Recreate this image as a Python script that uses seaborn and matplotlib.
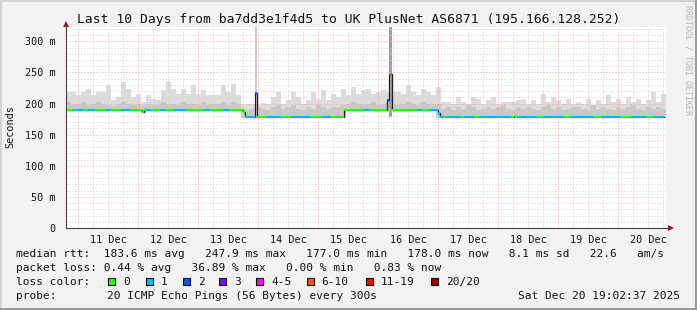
import numpy as np
import pandas as pd
import matplotlib
matplotlib.use("Agg")
import matplotlib.pyplot as plt
import seaborn as sns
from matplotlib.patches import Rectangle
from matplotlib.lines import Line2D

sns.set_style("white")
plt.rcParams['font.family'] = ['DejaVu Sans Mono', 'DejaVu Sans']

# ---------------- data ----------------
block_hours = 2.0   # smoke resolution (hours per block), 120 blocks over 10 days
smoke_top = [219, 219, 213, 219, 224, 213, 219, 219, 229, 205, 211, 235, 224, 211, 216, 203, 213, 208, 205, 221,
             235, 224, 216, 224, 216, 229, 216, 221, 213,
             213, 213, 229, 219, 232, 213, 200, 200, 200, 197, 201, 200, 211, 219, 200, 205, 219, 211, 200, 205,
             219, 208, 221, 205, 216, 211, 224, 213, 227, 216,
             221, 224, 216, 219, 221, 219, 219, 219, 216, 229, 219, 213, 224, 219, 213, 227, 203, 203, 200, 211,
             203, 200, 211, 208, 200, 205, 211, 200, 203, 203,
             203, 205, 208, 200, 205, 200, 216, 203, 211, 205, 200, 208, 200, 203, 200, 208, 197, 205, 200, 213,
             203, 208, 200, 211, 203, 208, 200, 205, 219, 203, 216]
smoke_mid = [203, 200, 200, 203, 198, 200, 203, 200, 198, 196, 200, 203, 200, 198, 200, 196, 200, 198, 198, 203,
             200, 200, 198, 203, 200, 200, 198, 203, 198, 200, 200, 203, 198, 203, 200,
             192,
             190, 192, 194, 192, 190, 195, 197, 192, 194, 197, 192, 190, 195, 192, 197, 194, 192, 195, 194,
             198,
             200, 203, 200, 198, 200, 203, 198, 200, 203, 200, 198, 200, 203, 200, 198, 203, 200, 198, 200,
             192, 194, 190, 195, 192, 197, 194, 190, 192, 195, 192, 194, 197, 192, 190, 194, 192, 195, 192, 190,
             194, 197, 192, 194, 190, 192, 195, 194, 192, 190, 197, 192, 194, 192, 190, 195, 192, 194, 197, 192,
             190, 194, 192, 195, 192]

spike_start_h = [75.4, 129.2]
spike_end_h = [76.4, 130.2]
spike_top = [323, 323]
spike_color = ['#cccccc', '#a0a0a0']

median_start_h = [0, 30.2, 31.2, 70.8, 71.6, 75.4, 76.4, 111.2, 128.4, 129.2, 130.2, 148.8, 149.6, 179.2, 180.4]
median_ms = [190, 186, 190, 186, 178, 217, 178, 190, 205, 247.9, 190, 184, 178, 180, 178]
end_h = 239.2

loss_start_h = [0, 2.8, 6.8, 8.8, 11.5, 16.1, 18.1, 22.1, 25.5, 32.1, 34.1, 37.5, 40.1, 42.8, 48.1, 54.8, 57.5,
                62.8, 65.5, 71.6, 75.4, 76.4, 80, 86, 90, 98, 102, 106, 119.2, 121.2, 128.4, 129.2, 130.2,
                140.4, 142.4, 145.2, 151.2, 152.4, 158, 159.2, 163.2, 165.2, 178, 180.4, 188.4, 191.2, 199.2,
                202, 211.2, 214, 222, 226, 232.4, 235.2]
loss_class = [0, 1, 0, 1, 0, 1, 0, 1, 0, 1, 0, 1, 0, 1, 0, 1, 0,
              1, 0, 1, 2, 0, 1, 0, 1, 0, 1, 0, 1, 0, 2, 5, 0,
              1, 0, 1, 0, 1, 0, 1, 0, 1, 0, 1, 0, 1, 0,
              1, 0, 1, 0, 1, 0, 1]

loss_labels = ['0', '1', '2', '3', '4-5', '6-10', '11-19', '20/20']
loss_colors = ['#26ff00', '#00b8ff', '#0059ff', '#7e00ff', '#ff00ff', '#ff5500', '#ff0000', '#a10000']

first_midnight_h = 4.957
day_labels = ['11 Dec', '12 Dec', '13 Dec', '14 Dec', '15 Dec', '16 Dec', '17 Dec', '18 Dec', '19 Dec', '20 Dec']
ytick_vals = [0, 50, 100, 150, 200, 250, 300]
ytick_labels = ['0', '50 m', '100 m', '150 m', '200 m', '250 m', '300 m']

title = "Last 10 Days from ba7dd3e1f4d5 to UK PlusNet AS6871 (195.166.128.252)"
row_rtt = "median rtt:  183.6 ms avg   247.9 ms max   177.0 ms min   178.0 ms now   8.1 ms sd   22.6   am/s"
row_loss = "packet loss: 0.44 % avg   36.89 % max   0.00 % min   0.83 % now"
row_probe_a = "probe:"
row_probe_b = "20 ICMP Echo Pings (56 Bytes) every 300s"
row_date = "Sat Dec 20 19:02:37 2025"

# ---------------- figure ----------------
W, H = 697, 310
fig = plt.figure(figsize=(W / 100, H / 100), dpi=100)
fig.patch.set_facecolor('#f2f2f2')

L, R, T, B = 66, 666, 27, 228
ax = fig.add_axes([L / W, 1 - B / H, (R - L) / W, (B - T) / H])
ax.set_facecolor('white')
YMAX = 323
ax.set_xlim(0, 240)
ax.set_ylim(0, YMAX)

# smoke
nblk = len(smoke_top)
blk_start = np.arange(nblk) * block_hours
med_start = np.array(median_start_h)
med_val = np.array(median_ms)
med_end = np.append(med_start[1:], end_h)
bottoms = []
for s in blk_start:
    e = s + block_hours
    m = (med_start < e) & (med_end > s)
    bottoms.append(med_val[m].min() - 1 if m.any() else med_val[-1])
bottoms = np.array(bottoms)
top = np.array(smoke_top, dtype=float)
mid = np.minimum(np.array(smoke_mid, dtype=float), top)
ax.bar(blk_start, top - bottoms, bottom=bottoms, width=block_hours, align='edge',
       color='#dcdcdc', linewidth=0, zorder=1)
ax.bar(blk_start, mid - bottoms, bottom=bottoms, width=block_hours, align='edge',
       color='#c8c8c8', linewidth=0, zorder=1.1)
for s, e, t, c in zip(spike_start_h, spike_end_h, spike_top, spike_color):
    ax.bar([s], [t - 178], bottom=178, width=e - s, align='edge', color=c, linewidth=0, zorder=1.2)

# grid (drawn over smoke)
minor_c, major_c = '#cfcfcf', '#f4a6a6'
dash = (0, (1, 2))
for v in range(10, YMAX, 10):
    if v % 50:
        ax.axhline(v, color=minor_c, lw=0.72, ls=dash, zorder=2)
for v in range(50, YMAX, 50):
    ax.axhline(v, color=major_c, lw=0.72, ls=dash, zorder=2.1)
vlines = np.arange(first_midnight_h, 240, 6.0)
for i, v in enumerate(vlines):
    if i % 4 == 0:
        ax.axvline(v, color=major_c, lw=0.72, ls=dash, zorder=2.1)
    else:
        ax.axvline(v, color=minor_c, lw=0.72, ls=dash, zorder=2)

# median connector line
line_df = pd.DataFrame({'h': np.append(med_start, end_h), 'ms': np.append(med_val, med_val[-1])})
sns.lineplot(data=line_df, x='h', y='ms', drawstyle='steps-post', color='#202020', lw=0.9,
             estimator=None, sort=False, ax=ax, zorder=3)

# median coloured band
sw = 1.8
brk = np.unique(np.concatenate([med_start, np.array(loss_start_h), [end_h]]))
ls_arr = np.array(loss_start_h)
for a, b in zip(brk[:-1], brk[1:]):
    v = med_val[np.searchsorted(med_start, a, side='right') - 1]
    k = loss_class[np.searchsorted(ls_arr, a, side='right') - 1]
    ax.bar([a], [2 * sw], bottom=v - sw, width=b - a, align='edge', color=loss_colors[k],
           linewidth=0, zorder=4)

# axes styling
axc = '#404040'
for s in ['top', 'right']:
    ax.spines[s].set_visible(False)
for s in ['left', 'bottom']:
    ax.spines[s].set_color(axc)
    ax.spines[s].set_linewidth(0.8)
    ax.spines[s].set_zorder(5)
ax.set_yticks(ytick_vals)
ax.set_yticklabels(ytick_labels)
ax.tick_params(axis='y', which='major', length=4, width=0.8, color=axc, pad=3.5, labelsize=7.3,
               labelcolor='#111111')
noon = first_midnight_h + 12 + 24 * np.arange(len(day_labels))
ax.set_xticks(noon)
ax.set_xticklabels(day_labels)
ax.set_xticks(first_midnight_h + 24 * np.arange(10), minor=True)
ax.tick_params(axis='x', which='major', length=0, pad=5, labelsize=7.3, labelcolor='#111111')
ax.tick_params(axis='x', which='minor', length=3, width=0.8, color=axc)
ax.set_xlabel('')
ax.set_ylabel('')

# axis arrows
ax.plot([0, 0], [1, 1 + 4 / 201], transform=ax.transAxes, color=axc, lw=0.8, clip_on=False, zorder=5)
ax.plot([0], [1 + 3 / 201], transform=ax.transAxes, marker='^', ms=4.2, color='#9b1c1c',
        mew=0, clip_on=False, zorder=6)
ax.plot([1, 1 + 3 / 600], [0, 0], transform=ax.transAxes, color=axc, lw=0.8, clip_on=False, zorder=5)
ax.plot([1 + 5 / 600], [0], transform=ax.transAxes, marker='>', ms=4.2, color='#9b1c1c',
        mew=0, clip_on=False, zorder=6)

# texts
def fy(y):
    return 1 - y / H

fig.text(0.5, fy(19), title, ha='center', va='center', fontsize=9.4, color='#111111')
fig.text(10 / W, fy(127), 'Seconds', rotation=90, ha='center', va='center', fontsize=7.3, color='#111111')
fig.text(688 / W, fy(60), 'RRDTOOL / TOBI OETIKER', rotation=270, ha='center', va='center',
         fontsize=6.0, color='#b8b8b8')

lf = 8.06
fig.text(16 / W, fy(254), row_rtt, ha='left', va='center', fontsize=lf, color='#111111')
fig.text(16 / W, fy(268), row_loss, ha='left', va='center', fontsize=lf, color='#111111')
fig.text(16 / W, fy(282), 'loss color:', ha='left', va='center', fontsize=lf, color='#111111')
box_x = [108, 145.7, 182.7, 219, 256, 306.7, 366, 430.7]
for bx, lab, col in zip(box_x, loss_labels, loss_colors):
    fig.add_artist(Rectangle((bx / W, fy(281.7 + 3.5)), 7 / W, 7 / H, transform=fig.transFigure,
                             facecolor=col, edgecolor='black', lw=0.8))
    fig.text((bx + 15) / W, fy(282), lab, ha='left', va='center', fontsize=lf, color='#111111')
fig.text(16 / W, fy(296), row_probe_a, ha='left', va='center', fontsize=lf, color='#111111')
fig.text(107.3 / W, fy(296), row_probe_b, ha='left', va='center', fontsize=lf, color='#111111')
fig.text(680 / W, fy(296), row_date, ha='right', va='center', fontsize=lf, color='#111111')

# frame
fig.add_artist(Line2D([0, 1], [1 - 1 / H, 1 - 1 / H], transform=fig.transFigure, color='#d2d2d2', lw=1.5))
fig.add_artist(Line2D([1 / W, 1 / W], [0, 1], transform=fig.transFigure, color='#d2d2d2', lw=1.5))
fig.add_artist(Line2D([0, 1], [1 / H, 1 / H], transform=fig.transFigure, color='#9a9a9a', lw=1.5))
fig.add_artist(Line2D([1 - 1 / W, 1 - 1 / W], [0, 1], transform=fig.transFigure, color='#9a9a9a', lw=1.5))

fig.savefig('out.png', dpi=100, facecolor=fig.get_facecolor())
